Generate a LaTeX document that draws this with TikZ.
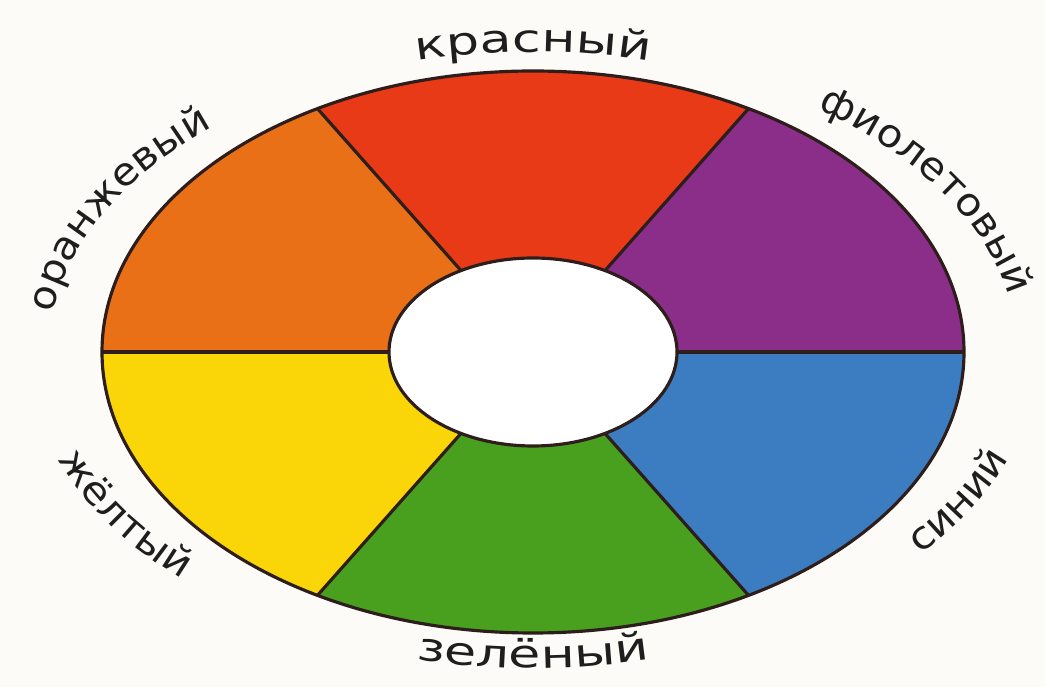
\documentclass[tikz,border=0pt]{standalone}
\usepackage{fontspec}
\usepackage{tikz}
\usetikzlibrary{calc,decorations.text}
\newfontfamily\wheelfont[FakeStretch=1.35]{DejaVu Sans}
\newfontfamily\wheelsidefont[FakeStretch=1.08]{DejaVu Sans}
\newcommand{\wlfont}{\wheelfont\fontsize{11pt}{14pt}\selectfont}
\newcommand{\wlsidefont}{\wheelsidefont\fontsize{11pt}{14pt}\selectfont}
\definecolor{wlpaper}{RGB}{253,251,247}
\definecolor{wlink}{RGB}{45,30,28}
\definecolor{wltext}{RGB}{30,30,30}
\definecolor{wlred}{RGB}{232,58,22}
\definecolor{wlpurple}{RGB}{138,46,138}
\definecolor{wlblue}{RGB}{60,125,194}
\definecolor{wlgreen}{RGB}{72,160,30}
\definecolor{wlyellow}{RGB}{250,214,8}
\definecolor{wlorange}{RGB}{234,112,24}
\tikzset{
  rim/.style={draw=wlink, line width=0.9pt},
  lbl/.style={
    decorate,
    decoration={text along path, text={|\wlfont|#1}, text align=center, text color=wltext}
  },
  sidelbl/.style={
    decorate,
    decoration={text along path, text={|\wlsidefont|#1}, text align=center, text color=wltext}
  }
}

\begin{document}
\begin{tikzpicture}[x=1cm,y=1cm]
  \path[use as bounding box, fill=wlpaper] (0,0) rectangle (10.45,6.87);
  \coordinate (ctr) at (5.33,3.35);
  % sectors
  \foreach \a/\c in {60/wlred, 0/wlpurple, -60/wlblue, -120/wlgreen, 180/wlyellow, 120/wlorange}
    \fill[\c] (ctr) -- ($(ctr)+(\a:4.31 and 2.81)$)
      arc[start angle=\a, end angle=\a+60, x radius=4.31, y radius=2.81] -- cycle;
  \foreach \a in {0,60,...,300}
    \draw[rim] ($(ctr)+(\a:1.44 and 0.94)$) -- ($(ctr)+(\a:4.31 and 2.81)$);
  \draw[rim] (ctr) ellipse[x radius=4.31, y radius=2.81];
  \draw[rim, fill=white] (ctr) ellipse[x radius=1.44, y radius=0.94];
  % labels, upper half (ends chosen so the text sits mid-sector)
  \path[lbl={красный}] ($(ctr)+(150:4.84 and 3.00)$)
    arc[start angle=150, end angle=30, x radius=4.84, y radius=3.00];
  \path[sidelbl={фиолетовый}] ($(ctr)+(79:4.84 and 3.00)$)
    arc[start angle=79, end angle=-26, x radius=4.84, y radius=3.00];
  \path[sidelbl={оранжевый}] ($(ctr)+(210:4.84 and 3.00)$)
    arc[start angle=210, end angle=105, x radius=4.84, y radius=3.00];
  % labels, lower half
  \path[sidelbl={жёлтый}] ($(ctr)+(153:5.05 and 3.16)$)
    arc[start angle=153, end angle=259, x radius=5.05, y radius=3.16];
  \path[lbl={зелёный}] ($(ctr)+(210:5.05 and 3.16)$)
    arc[start angle=210, end angle=330, x radius=5.05, y radius=3.16];
  \path[sidelbl={синий}] ($(ctr)+(284:5.05 and 3.16)$)
    arc[start angle=284, end angle=390, x radius=5.05, y radius=3.16];
\end{tikzpicture}
\end{document}
